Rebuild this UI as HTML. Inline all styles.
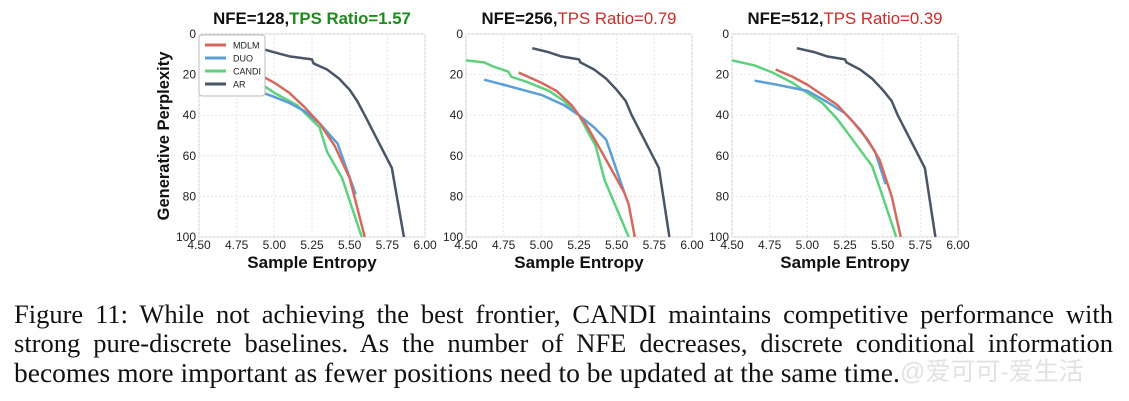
<!DOCTYPE html>
<html><head><meta charset="utf-8"><style>
body{margin:0;background:#fff;width:1129px;height:401px;overflow:hidden;position:relative}
svg{position:absolute;left:0;top:0}
.cap{position:absolute;left:14px;width:1099px;font-family:"Liberation Serif",serif;font-size:26.5px;color:#111;text-align:justify;text-align-last:justify;white-space:nowrap;line-height:29px}
</style></head><body>
<svg id="chart" width="1129" height="290"></svg>
<div class="cap" style="top:300px">Figure 11: While not achieving the best frontier, CANDI maintains competitive performance with</div>
<div class="cap" style="top:329px">strong pure-discrete baselines. As the number of NFE decreases, discrete conditional information</div>
<div class="cap" style="top:358px;text-align-last:left;width:auto;font-size:27.5px">becomes more important as fewer positions need to be updated at the same time.</div>
<div style="position:absolute;left:900px;top:358px;font-family:'Liberation Sans','Noto Sans CJK SC',sans-serif;font-size:25px;color:#e2e2e2;line-height:29px">@爱可可-爱生活</div>
<script>
const xTicks=[4.5,4.75,5.0,5.25,5.5,5.75,6.0];
const xTickLabels=["4.50","4.75","5.00","5.25","5.50","5.75","6.00"];
const yTicks=[0,20,40,60,80,100];
const titlesA=["NFE=128,","NFE=256,","NFE=512,"];
const titlesB=["TPS Ratio=1.57","TPS Ratio=0.79","TPS Ratio=0.39"];
const seriesNames=["MDLM","DUO","CANDI","AR"];
const arX=[4.88,5.0,5.1,5.25,5.26,5.35,5.43,5.5,5.55,5.6,5.78,5.86];
const arY=[6.5,9,11,12.5,14.5,17.5,22,27.5,33,40,66,100];
const p1mdlmX=[4.9,5.0,5.1,5.2,5.3,5.4,5.5,5.6];
const p1mdlmY=[20,24,29,36,44,55,71,100];
const p1duoX=[4.85,5.0,5.1,5.2,5.3,5.42,5.54];
const p1duoY=[27,31,34,38,44,54,79];
const p1candiX=[4.9,5.0,5.15,5.3,5.35,5.45,5.58];
const p1candiY=[24,29,35,46,58,71,100];
const p2arX=[4.94,5.05,5.13,5.25,5.26,5.35,5.43,5.5,5.56,5.6,5.78,5.85];
const p2arY=[7,9,11,12.5,14,17.5,22,27.5,33,40,66,100];
const p2mdlmX=[4.85,5.0,5.1,5.2,5.3,5.4,5.55,5.58,5.62];
const p2mdlmY=[19,24,28,35,45,58,78,84,100];
const p2duoX=[4.62,4.75,5.0,5.15,5.25,5.35,5.43,5.55];
const p2duoY=[22.5,25,30,35,40,46,52,78];
const p2candiX=[4.5,4.62,4.68,4.78,4.8,4.9,5.05,5.15,5.25,5.3,5.36,5.42,5.58];
const p2candiY=[13,14,16,18.5,21,23.5,28,33,40,47,55,72,100];
const p3arX=[4.93,5.05,5.13,5.25,5.26,5.35,5.43,5.5,5.56,5.6,5.78,5.85];
const p3arY=[7,9,11,12.5,14,17.5,22,27.5,33,40,66,100];
const p3mdlmX=[4.79,4.9,5.0,5.1,5.2,5.3,5.4,5.48,5.56,5.62];
const p3mdlmY=[17.5,21,25,30,35,43,52,62,80,100];
const p3duoX=[4.65,4.8,5.0,5.12,5.25,5.35,5.45,5.52];
const p3duoY=[23,25,28,33,39,47,58,74];
const p3candiX=[4.5,4.65,4.77,4.9,5.0,5.1,5.2,5.3,5.43,5.5,5.59];
const p3candiY=[13,15.5,19,24,29,34,42,52,65,80,100];
const panels=[
 {ox:199,mdlm:[p1mdlmX,p1mdlmY],duo:[p1duoX,p1duoY],candi:[p1candiX,p1candiY],ar:[arX,arY]},
 {ox:466,mdlm:[p2mdlmX,p2mdlmY],duo:[p2duoX,p2duoY],candi:[p2candiX,p2candiY],ar:[p2arX,p2arY]},
 {ox:732,mdlm:[p3mdlmX,p3mdlmY],duo:[p3duoX,p3duoY],candi:[p3candiX,p3candiY],ar:[p3arX,p3arY]}];
const colors={mdlm:"#d46a5e",duo:"#5b9fd6",candi:"#5fd07e",ar:"#4a5565"};
const NS="http://www.w3.org/2000/svg";
const svg=document.getElementById('chart');
function mk(t,a,p){const e=document.createElementNS(NS,t);for(const k in a)e.setAttribute(k,a[k]);(p||svg).appendChild(e);return e;}
const W=226,T=34,B=237;
panels.forEach((p,i)=>{
 const sx=v=>p.ox+(v-4.5)/1.5*W, sy=v=>T+v/100*(B-T);
 const g=mk('g',{});
 
 
 mk('rect',{x:p.ox,y:T,width:W,height:B-T,fill:'#fff',stroke:'#ccc','stroke-width':1},g);
 xTicks.forEach((v,j)=>{
  mk('line',{x1:sx(v),x2:sx(v),y1:T,y2:B,stroke:'#e6e6e6','stroke-dasharray':'2,2'},g);
  const t=mk('text',{x:sx(v),y:B+12,'text-anchor':'middle','font-family':'Liberation Sans,sans-serif','font-size':12,fill:'#222'},g);
  
  
  t.textContent=xTickLabels[j];
 });
 yTicks.forEach(v=>{
  mk('line',{x1:p.ox,x2:p.ox+W,y1:sy(v),y2:sy(v),stroke:'#e6e6e6','stroke-dasharray':'2,2'},g);
  const t=mk('text',{x:p.ox-3,y:sy(v)+4,'text-anchor':'end','font-family':'Liberation Sans,sans-serif','font-size':12,fill:'#222'},g);
  
  
  t.textContent=v;
 });
 const cp=mk('clipPath',{id:'c'+i},g);mk('rect',{x:p.ox,y:T,width:W,height:B-T},cp);
 ['candi','duo','mdlm','ar'].forEach(k=>{
  const [xs,ys]=p[k];
  const path=mk('polyline',{points:xs.map((x,j)=>sx(x)+','+sy(ys[j])).join(' '),fill:'none',stroke:colors[k],'stroke-width':2.5,'stroke-linejoin':'round','clip-path':'url(#c'+i+')'},g);
  
  
 });
 const tt=mk('text',{x:p.ox+W/2,y:24,'text-anchor':'middle','font-family':'Liberation Sans,sans-serif','font-size':16.8},g);
 
 
 const a=mk('tspan',{'font-weight':'bold',fill:'#111'},tt);a.textContent=titlesA[i];
 const b=mk('tspan',{fill:i==0?'#1f8a1f':'#cc2a2a','font-weight':i==0?'bold':'normal'},tt);b.textContent=titlesB[i];
 const xl=mk('text',{x:p.ox+W/2,y:268,'text-anchor':'middle','font-family':'Liberation Sans,sans-serif','font-size':17,'font-weight':'bold',fill:'#111'},g);
 
 
 xl.textContent='Sample Entropy';
});
const yl=mk('text',{x:0,y:0,transform:'translate(169,136) rotate(-90)','text-anchor':'middle','font-family':'Liberation Sans,sans-serif','font-size':16.5,'font-weight':'bold',fill:'#111'});


yl.textContent='Generative Perplexity';
const lg=mk('g',{});


mk('rect',{x:199,y:35,width:66,height:61,rx:3,fill:'#fff',stroke:'#bbb','stroke-width':1},lg);
['mdlm','duo','candi','ar'].forEach((k,j)=>{
 const y=45+j*13;
 mk('line',{x1:205,x2:226,y1:y,y2:y,stroke:colors[k],'stroke-width':3},lg);
 const t=mk('text',{x:233,y:y+3.5,'font-family':'Liberation Sans,sans-serif','font-size':9,fill:'#222'},lg);
 
 
 t.textContent=seriesNames[j];
});
</script>
</body></html>
